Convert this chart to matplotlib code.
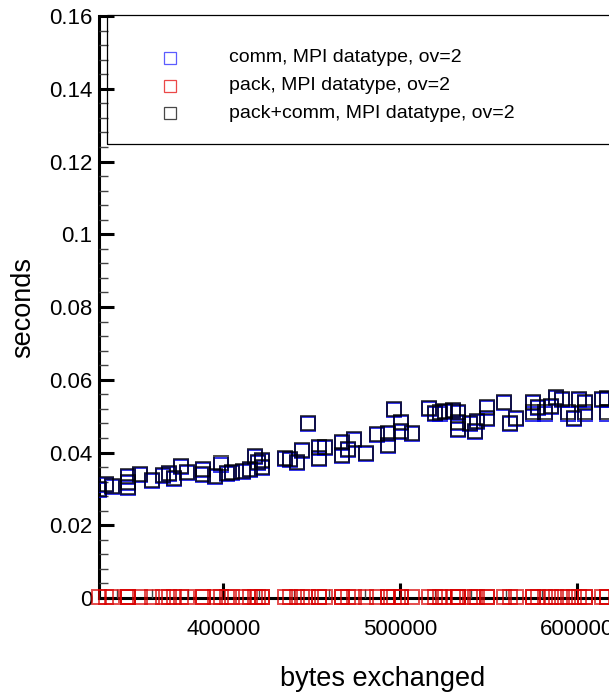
import matplotlib
matplotlib.use("Agg")
import matplotlib.pyplot as plt
from matplotlib.lines import Line2D
from matplotlib.patches import Rectangle
from matplotlib.ticker import MultipleLocator

plt.rcParams['font.family'] = ['Liberation Sans', 'DejaVu Sans']

# message size (bytes) for each sample
bytes_exchanged = [
    330000, 333700, 337100, 346200, 346200, 346200, 352900, 359700, 365900, 369300,
    372100, 376100, 379500, 388500, 388500, 395300, 398700, 402100, 404900, 411100,
    415100, 417900, 419600, 421900, 421900, 434900, 437700, 441700, 444500, 447900,
    454100, 454100, 457500, 467100, 467100, 470500, 473900, 480700, 486900, 493100,
    493100, 496500, 500500, 500500, 506700, 516300, 519700, 522500, 525400, 529900,
    532700, 532700, 532700, 539500, 542300, 543400, 549000, 549000, 558600, 562000,
    565400, 575000, 575000, 577900, 581800, 585200, 588000, 591400, 594800, 598200,
    601000, 604400, 604400, 614000, 616800, 616800,
]

# communication time (s)
comm_time = [
    0.0297, 0.0310, 0.0305, 0.0332, 0.0317, 0.0302, 0.0337, 0.0322, 0.0335, 0.0341,
    0.0327, 0.0360, 0.0344, 0.0352, 0.0337, 0.0332, 0.0367, 0.0341, 0.0344, 0.0347,
    0.0352, 0.0387, 0.0371, 0.0357, 0.0377, 0.0382, 0.0380, 0.0371, 0.0404, 0.0477,
    0.0412, 0.0382, 0.0412, 0.0427, 0.0390, 0.0407, 0.0434, 0.0397, 0.0447, 0.0451,
    0.0417, 0.0517, 0.0481, 0.0457, 0.0451, 0.0519, 0.0505, 0.0507, 0.0512, 0.0514,
    0.0509, 0.0481, 0.0462, 0.0477, 0.0457, 0.0483, 0.0522, 0.0492, 0.0537, 0.0477,
    0.0492, 0.0537, 0.0507, 0.0522, 0.0507, 0.0525, 0.0550, 0.0544, 0.0507, 0.0492,
    0.0544, 0.0537, 0.0507, 0.0544, 0.0547, 0.0507,
]

# packing time (s)
pack_time = [
    0.0003, 0.0003, 0.0003, 0.0003, 0.0003, 0.0003, 0.0003, 0.0003, 0.0003, 0.0003,
    0.0003, 0.0003, 0.0003, 0.0003, 0.0003, 0.0003, 0.0003, 0.0003, 0.0003, 0.0003,
    0.0003, 0.0003, 0.0003, 0.0003, 0.0003, 0.0003, 0.0003, 0.0003, 0.0003, 0.0003,
    0.0003, 0.0003, 0.0003, 0.0003, 0.0003, 0.0003, 0.0003, 0.0003, 0.0003, 0.0003,
    0.0003, 0.0003, 0.0003, 0.0003, 0.0003, 0.0003, 0.0003, 0.0003, 0.0003, 0.0003,
    0.0003, 0.0003, 0.0003, 0.0003, 0.0003, 0.0003, 0.0003, 0.0003, 0.0003, 0.0003,
    0.0003, 0.0003, 0.0003, 0.0003, 0.0003, 0.0003, 0.0003, 0.0003, 0.0003, 0.0003,
    0.0003, 0.0003, 0.0003, 0.0003, 0.0003, 0.0003,
]

# packing + communication time (s)
total_time = [
    0.0300, 0.0313, 0.0308, 0.0335, 0.0320, 0.0305, 0.0340, 0.0325, 0.0338, 0.0344,
    0.0330, 0.0363, 0.0347, 0.0355, 0.0340, 0.0335, 0.0370, 0.0344, 0.0347, 0.0350,
    0.0355, 0.0390, 0.0374, 0.0360, 0.0380, 0.0385, 0.0383, 0.0374, 0.0407, 0.0480,
    0.0415, 0.0385, 0.0415, 0.0430, 0.0393, 0.0410, 0.0437, 0.0400, 0.0450, 0.0454,
    0.0420, 0.0520, 0.0484, 0.0460, 0.0454, 0.0522, 0.0508, 0.0510, 0.0515, 0.0517,
    0.0512, 0.0484, 0.0465, 0.0480, 0.0460, 0.0486, 0.0525, 0.0495, 0.0540, 0.0480,
    0.0495, 0.0540, 0.0510, 0.0525, 0.0510, 0.0528, 0.0553, 0.0547, 0.0510, 0.0495,
    0.0547, 0.0540, 0.0510, 0.0547, 0.0550, 0.0510,
]

series_labels = [
    "comm, MPI datatype, ov=2",
    "pack, MPI datatype, ov=2",
    "pack+comm, MPI datatype, ov=2",
]

y_ticks = [0, 0.02, 0.04, 0.06, 0.08, 0.1, 0.12, 0.14, 0.16]
y_tick_labels = ["0", "0.02", "0.04", "0.06", "0.08", "0.1", "0.12", "0.14", "0.16"]
x_ticks = [400000, 500000, 600000]
x_tick_labels = ["400000", "500000", "600000"]

W, H = 609, 696
fig = plt.figure(figsize=(W / 100, H / 100), dpi=100)
# axes run past the right edge of the page
ax = fig.add_axes([99.4 / W, 1 - 598 / H, 566 / W, 582 / H])

mk = dict(marker='s', linestyle='none', markersize=9.8, markerfacecolor='none',
          markeredgewidth=1.4)
ax.plot(bytes_exchanged, comm_time, markeredgecolor=(0.0, 0.0, 0.9, 0.8), **mk)
ax.plot(bytes_exchanged, pack_time, markeredgecolor=(0.85, 0.0, 0.0, 0.7),
        clip_on=False, **mk)
ax.plot(bytes_exchanged, total_time, markeredgecolor=(0.0, 0.0, 0.0, 0.7), **mk)

ax.set_xlim(330000, 650000)
ax.set_ylim(0, 0.16)

ax.set_xticks(x_ticks, x_tick_labels)
ax.set_yticks(y_ticks, y_tick_labels)
ax.xaxis.set_minor_locator(MultipleLocator(20000))
ax.yaxis.set_minor_locator(MultipleLocator(0.004))

for s in ['top', 'right']:
    ax.spines[s].set_visible(False)
for s in ['left', 'bottom']:
    ax.spines[s].set_linewidth(2.2)
    ax.spines[s].set_zorder(1)

ax.tick_params(which='major', direction='in', length=11, width=2.2,
               labelsize=16, color='black')
ax.tick_params(axis='x', which='major', pad=15)
ax.tick_params(axis='y', which='major', pad=5)
ax.tick_params(which='minor', direction='in', length=6.5, width=1.0,
               color='#444444')

ax.set_xlabel("bytes exchanged", fontsize=19.5, labelpad=19)
ax.set_ylabel("seconds", fontsize=19.5, labelpad=9)

# legend panel
fig.add_artist(Rectangle((107 / W, 1 - 144 / H), 700 / W, 129 / H,
                         transform=fig.transFigure, fill=False,
                         edgecolor='black', linewidth=0.9))
leg_colors = [(0.2, 0.2, 1.0, 0.8), (0.9, 0.1, 0.1, 0.8), (0.1, 0.1, 0.1, 0.8)]
for i, (lab, col) in enumerate(zip(series_labels, leg_colors)):
    yy = 1 - (58 + 27.5 * i) / H
    fig.add_artist(Line2D([170 / W], [yy], transform=fig.transFigure,
                          marker='s', markersize=8, markerfacecolor='none',
                          markeredgecolor=col, markeredgewidth=0.9,
                          linestyle='none'))
    fig.text(229 / W, yy, lab, fontsize=14, va='center', ha='left')

fig.savefig("out.png", dpi=100)
